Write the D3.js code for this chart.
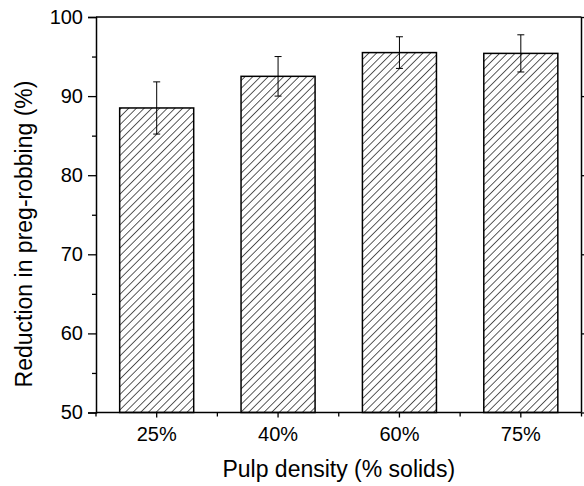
<!DOCTYPE html>
<html>
<head>
<meta charset="utf-8">
<script src="https://cdn.jsdelivr.net/npm/d3@7"></script>
<style>
  html, body { margin: 0; padding: 0; background: #fff; }
  svg { display: block; font-family: "Liberation Sans", Arial, sans-serif; }
</style>
</head>
<body>
<svg id="chart" width="584" height="486"></svg>
<script>
// Pulp density categories and the mean reduction in preg-robbing with its error
const categories = ["25%", "40%", "60%", "75%"];
const reduction = [88.5, 92.5, 95.5, 95.4];
const errors = [3.3, 2.5, 2.0, 2.35];
const yTicks = [50, 60, 70, 80, 90, 100];
const yMinorTicks = [55, 65, 75, 85, 95];

const width = 584, height = 486;
const margin = { left: 96, right: 2.5, top: 17, bottom: 73.5 };
const innerW = width - margin.left - margin.right;
const innerH = height - margin.top - margin.bottom;

const svg = d3.select("#chart");

// Diagonal hatch fill for the bars
const defs = svg.append("defs");
const pat = defs.append("pattern")
  .attr("id", "hatch")
  .attr("patternUnits", "userSpaceOnUse")
  .attr("width", 5.45)
  .attr("height", 5.45)
  .attr("patternTransform", "rotate(45)");
pat.append("rect").attr("width", 5.45).attr("height", 5.45).attr("fill", "#fff");
pat.append("line")
  .attr("x1", 0).attr("y1", 0).attr("x2", 0).attr("y2", 5.45)
  .attr("stroke", "#333").attr("stroke-width", 1.6);

const g = svg.append("g").attr("transform", `translate(${margin.left},${margin.top})`);

const x = d3.scaleBand().domain(categories).range([0, innerW]).paddingInner(0.39).paddingOuter(0.195);
const xCenter = d3.scaleBand().domain(categories).range([0, innerW]).padding(0);
const y = d3.scaleLinear().domain([50, 100]).range([innerH, 0]);

// Bars
g.selectAll("rect.bar")
  .data(categories)
  .join("rect")
  .attr("class", "bar")
  .attr("x", d => x(d))
  .attr("width", x.bandwidth())
  .attr("y", (d, i) => y(reduction[i]))
  .attr("height", (d, i) => y(50) - y(reduction[i]))
  .attr("fill", "url(#hatch)")
  .attr("stroke", "#000")
  .attr("stroke-width", 1.5);

// Error bars
const cap = 3.5;
const eb = g.selectAll("g.err").data(categories).join("g").attr("class", "err");
eb.append("line")
  .attr("x1", d => xCenter(d) + xCenter.bandwidth() / 2)
  .attr("x2", d => xCenter(d) + xCenter.bandwidth() / 2)
  .attr("y1", (d, i) => y(reduction[i] - errors[i]))
  .attr("y2", (d, i) => y(reduction[i] + errors[i]));
eb.append("line")
  .attr("x1", d => xCenter(d) + xCenter.bandwidth() / 2 - cap)
  .attr("x2", d => xCenter(d) + xCenter.bandwidth() / 2 + cap)
  .attr("y1", (d, i) => y(reduction[i] + errors[i]))
  .attr("y2", (d, i) => y(reduction[i] + errors[i]));
eb.append("line")
  .attr("x1", d => xCenter(d) + xCenter.bandwidth() / 2 - cap)
  .attr("x2", d => xCenter(d) + xCenter.bandwidth() / 2 + cap)
  .attr("y1", (d, i) => y(reduction[i] - errors[i]))
  .attr("y2", (d, i) => y(reduction[i] - errors[i]));
eb.selectAll("line").attr("stroke", "#000").attr("stroke-width", 1);

// Left axis: major ticks with labels, minor ticks without
const yAxis = g.append("g")
  .call(d3.axisLeft(y).tickValues(yTicks).tickSize(8).tickPadding(5).tickFormat(d3.format("d")));
g.append("g")
  .call(d3.axisLeft(y).tickValues(yMinorTicks).tickSize(4).tickFormat(""))
  .select(".domain").remove();

// Bottom axis: ticks at category centres and between categories
const xAxis = g.append("g")
  .attr("transform", `translate(0,${innerH})`)
  .call(d3.axisBottom(xCenter).tickSize(5).tickPadding(9));
const bounds = d3.range(categories.length + 1).map(i => i * xCenter.step());
g.append("g")
  .attr("transform", `translate(0,${innerH})`)
  .selectAll("line").data(bounds).join("line")
  .attr("x1", d => d).attr("x2", d => d)
  .attr("y1", 0).attr("y2", 4)
  .attr("stroke", "#000").attr("stroke-width", 1.3);

// Right axis ticks (outward)
g.append("g")
  .attr("transform", `translate(${innerW},0)`)
  .call(d3.axisRight(y).tickValues(yTicks).tickSize(8).tickFormat(""))
  .select(".domain").remove();

[yAxis, xAxis].forEach(a => {
  a.selectAll(".domain").attr("stroke", "#000").attr("stroke-width", 1.5);
  a.selectAll("text").attr("fill", "#000").style("font-size", "20px")
    .style("font-family", "'Liberation Sans', Arial, sans-serif");
});
g.selectAll(".tick line").attr("stroke", "#000").attr("stroke-width", 1.3);
xAxis.selectAll(".domain").attr("d", `M0,0H${innerW}`);

// Frame: top and right edges
g.append("line").attr("x1", 0).attr("x2", innerW).attr("y1", 0).attr("y2", 0)
  .attr("stroke", "#000").attr("stroke-width", 1.5);
g.append("line").attr("x1", innerW).attr("x2", innerW).attr("y1", 0).attr("y2", innerH)
  .attr("stroke", "#000").attr("stroke-width", 1.5);

// Axis titles
svg.append("text")
  .attr("x", margin.left + innerW / 2)
  .attr("y", 477)
  .attr("text-anchor", "middle")
  .style("font-size", "23px")
  .text("Pulp density (% solids)");
svg.append("text")
  .attr("transform", "translate(32,234) rotate(-90)")
  .attr("text-anchor", "middle")
  .style("font-size", "23px")
  .text("Reduction in preg-robbing (%)");
</script>
</body>
</html>
